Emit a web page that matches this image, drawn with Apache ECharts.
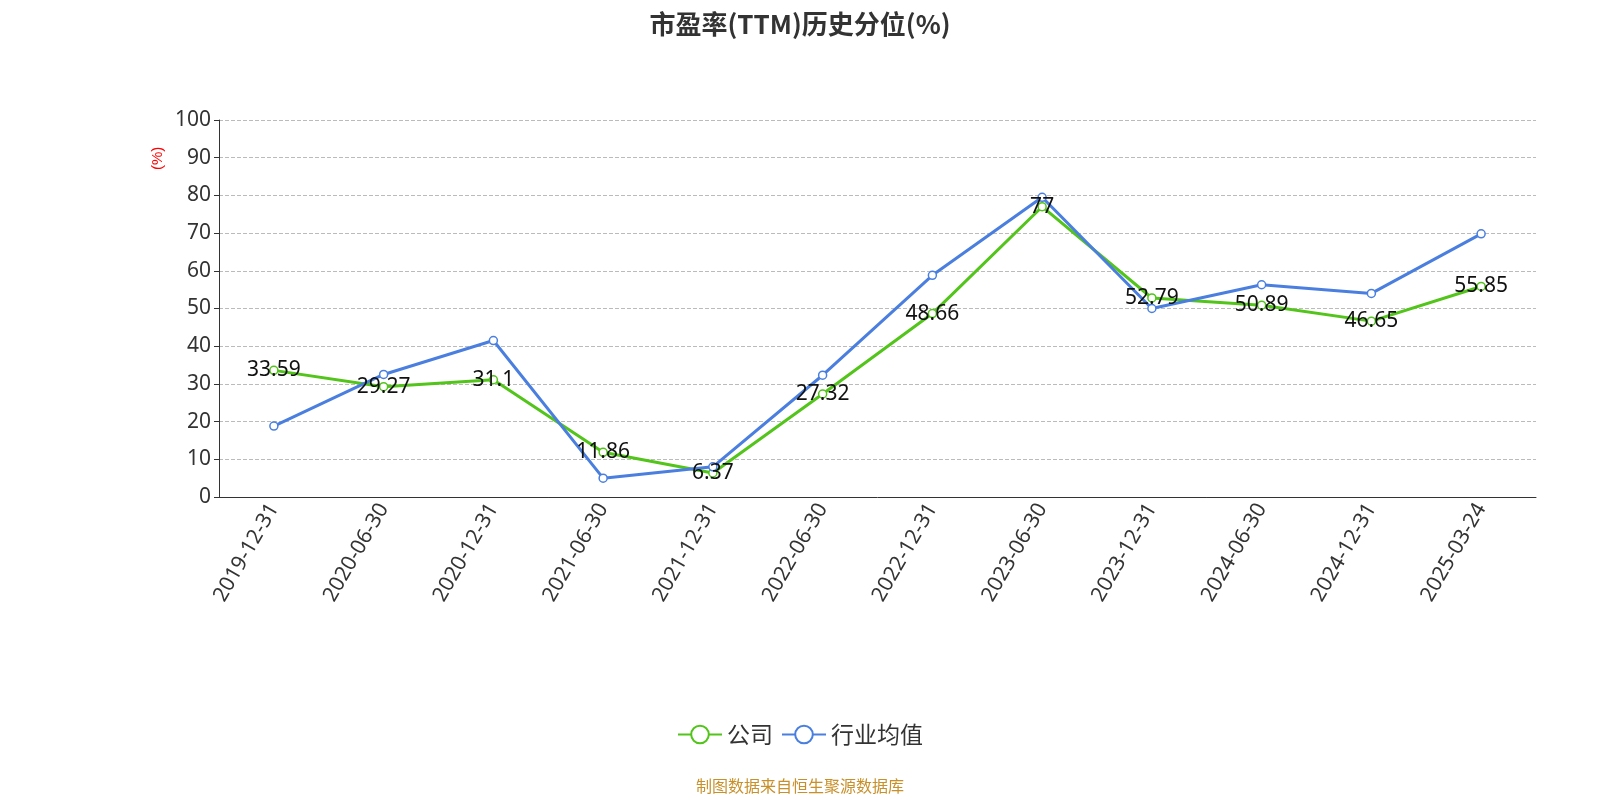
<!DOCTYPE html>
<html><head><meta charset="utf-8">
<script src="https://cdn.jsdelivr.net/npm/echarts@6/dist/echarts.min.js"></script>
<style>html,body{margin:0;padding:0}#c{width:1600px;height:800px}</style>
</head><body><div id="c"></div>
<script>
const categories=['2019-12-31','2020-06-30','2020-12-31','2021-06-30','2021-12-31','2022-06-30','2022-12-31','2023-06-30','2023-12-31','2024-06-30','2024-12-31','2025-03-24'];
const company=[33.59,29.27,31.1,11.86,6.37,27.32,48.66,77,52.79,50.89,46.65,55.85];
const industry=[18.8,32.5,41.5,5.0,8.0,32.3,58.8,79.5,50.0,56.3,54.0,69.8];
const chart=echarts.init(document.getElementById('c'));
chart.setOption({
 textStyle:{fontFamily:'Noto Sans, Noto Sans CJK SC'},
 title:{text:'市盈率(TTM)历史分位(%)',left:'center',top:6,textStyle:{fontSize:26,fontWeight:'bold',color:'#333',fontFamily:'Noto Sans CJK SC'}},
 legend:{top:718,itemWidth:44,itemHeight:22,textStyle:{fontSize:23,color:'#333',fontFamily:'Noto Sans CJK SC'},data:['公司','行业均值']},
 graphic:[{type:'text',left:'center',top:778,style:{text:'制图数据来自恒生聚源数据库',fill:'#c8902a',fontSize:16,fontFamily:'Noto Sans CJK SC'}},
  {type:'text',x:150,y:170,rotation:Math.PI/2,style:{text:'(%)',fill:'red',fontSize:15}}],
 grid:{left:219,right:64,top:120,bottom:303},
 xAxis:{type:'category',data:categories,boundaryGap:true,axisLine:{lineStyle:{color:'#333'}},axisTick:{length:6,lineStyle:{color:'#333'}},
  axisLabel:{rotate:60,fontSize:21,color:'#333',interval:0,fontFamily:'Noto Sans'}},
 yAxis:{type:'value',min:0,max:100,interval:10,axisLine:{show:true,lineStyle:{color:'#333'}},axisTick:{show:true},
  axisLabel:{fontSize:21,color:'#333',fontFamily:'Noto Sans'},splitLine:{lineStyle:{type:'dashed',color:'#bbb'}}},
 series:[
  {name:'公司',type:'line',data:company,color:'#52c41a',symbol:'circle',symbolSize:8,itemStyle:{color:'#fff',borderColor:'#52c41a',borderWidth:1.5},lineStyle:{width:3,color:'#52c41a'},
   label:{show:true,fontSize:21,color:'#111',position:'inside',fontFamily:'Noto Sans'}},
  {name:'行业均值',type:'line',data:industry,color:'#4a7fe0',symbol:'circle',symbolSize:8,itemStyle:{color:'#fff',borderColor:'#4a7fe0',borderWidth:1.5},lineStyle:{width:3,color:'#4a7fe0'}}
 ]
});
</script></body></html>
